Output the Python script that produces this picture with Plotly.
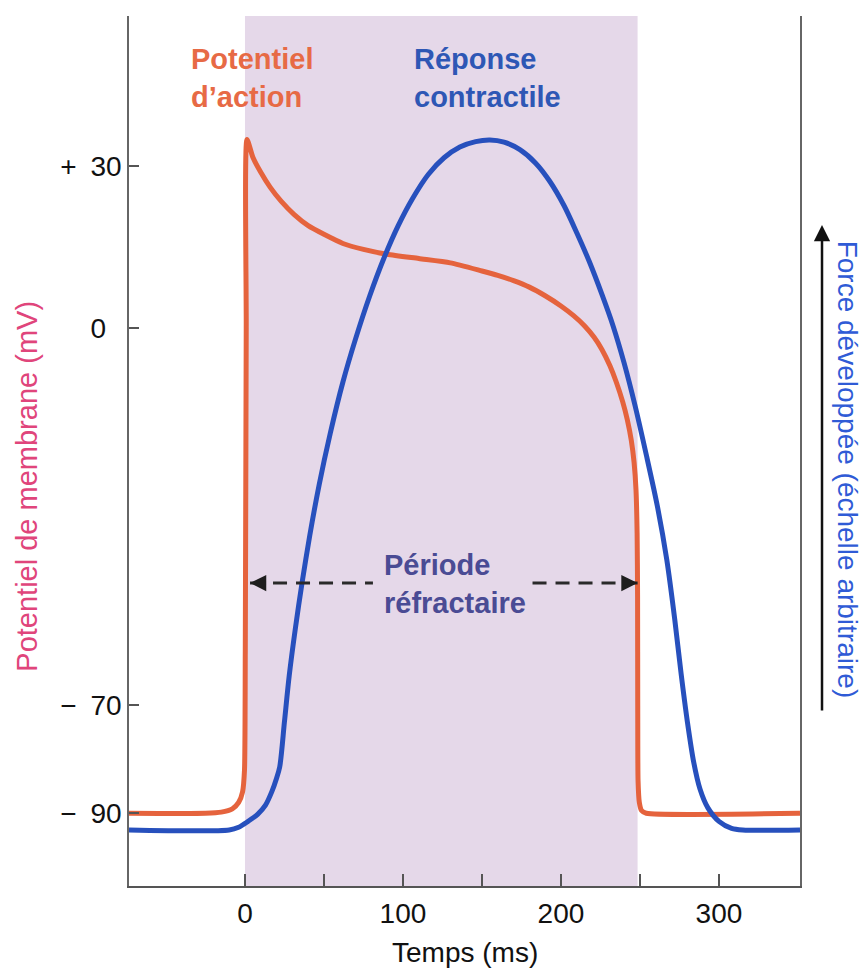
import plotly.graph_objects as go

# ---- data ----
ap_time = [-73.4, -25, -15, -8, -4, -1.5, -0.3, 0.2, 0.8, 1.3, 5, 10, 16, 23, 31, 40, 50, 62, 75, 90,
           110, 130, 150, 160, 170, 180, 190, 200, 208, 215, 221, 226, 231, 235, 239, 242, 244.5, 246.3,
           247.5, 248.2, 248.5, 248.6, 248.8, 249.6, 251, 254, 351.3]
ap_mv = [-90, -90, -89.8, -89.2, -88, -86, -82, -60, 0, 35, 31.7, 28.9, 26.1, 23.5, 21.1, 19.0, 17.4,
         15.7, 14.6, 13.7, 12.9, 12.1, 10.6, 9.8, 8.8, 7.6, 6.0, 4.1, 2.3, 0.4, -1.7, -4.0, -7.0, -10.0,
         -13.6, -17.0, -20.8, -25, -30, -38, -50, -70, -84, -88, -89.5, -90, -90]

force_time = [-73.4, -10, -4, 2, 8, 13, 17, 20, 22, 25, 28, 32, 36, 41, 47, 54, 62, 70, 79, 88, 97, 106,
              116, 126, 136, 146, 155, 164, 174, 184, 193, 202, 210, 218, 226, 233, 240, 247, 254, 261,
              267, 272, 276, 280, 284, 288, 293, 300, 308, 315, 351.3]
force_val = [-93.1, -93.1, -92.6, -91.5, -90.2, -88.5, -86, -83.5, -81.4, -73, -64.5, -55.5, -47.5,
             -38.5, -29, -19.5, -10, -2, 6, 13, 19, 24, 28.5, 31.6, 33.6, 34.6, 34.9, 34.5, 33.1, 30.6,
             27.2, 22.7, 17.7, 12.3, 6.2, 0.4, -6.5, -14.5, -23.5, -33, -43, -54, -64, -73, -80.5,
             -85.5, -89, -91.5, -92.8, -93.1, -93.1]

refractory_start = 0
refractory_end = 248.5
refractory_level = -47.3
refractory_label_gap = (81, 182)

x_tick_vals = [0, 50, 100, 150, 200, 250, 300]
x_tick_text = ['0', '', '100', '', '200', '', '300']
y_tick_vals = [30, 0, -70, -90]
y_tick_text = ['+\u200230', '0\u2007', '\u2212\u200270', '\u2212\u200290']

ORANGE = '#e5633d'
BLUE = '#2750bd'
FONT = 'Liberation Sans, Arial, Helvetica, sans-serif'

fig = go.Figure()

# refractory period shading
fig.add_shape(type='rect', xref='x', yref='paper', x0=refractory_start, x1=refractory_end,
              y0=0, y1=1, fillcolor='#e5d8e9', line_width=0, layer='below')

fig.add_trace(go.Scatter(x=ap_time, y=ap_mv, mode='lines',
                         line=dict(color=ORANGE, width=5, shape='spline', smoothing=0.6),
                         showlegend=False, hoverinfo='skip'))
fig.add_trace(go.Scatter(x=force_time, y=force_val, mode='lines',
                         line=dict(color=BLUE, width=5, shape='spline', smoothing=0.8),
                         showlegend=False, hoverinfo='skip'))

# dashed refractory arrow segments
for xa, xb in [(refractory_start + 3.2, refractory_label_gap[0]), (refractory_label_gap[1], refractory_end)]:
    fig.add_trace(go.Scatter(x=[xa, xb], y=[refractory_level, refractory_level], mode='lines',
                             line=dict(color='#2a2a2a', width=3, dash='14px,9px'),
                             showlegend=False, hoverinfo='skip'))

annotations = []
# arrowheads
annotations.append(dict(x=refractory_start + 3.2, y=refractory_level, xref='x', yref='y', text='',
                        showarrow=True, ax=14, ay=0, arrowhead=2, arrowsize=1.3, arrowwidth=2.5,
                        arrowcolor='#1e1e1e'))
annotations.append(dict(x=refractory_end, y=refractory_level, xref='x', yref='y', text='',
                        showarrow=True, ax=-14, ay=0, arrowhead=2, arrowsize=1.3, arrowwidth=2.5,
                        arrowcolor='#1e1e1e'))

# labels
annotations.append(dict(x=-35.5, y=53.2, xref='x', yref='y', xanchor='left', yanchor='top', align='left',
                        text='<b>Potentiel<br>d\u2019action</b>', showarrow=False,
                        font=dict(family=FONT, size=29, color='#e76a45')))
annotations.append(dict(x=106, y=53.2, xref='x', yref='y', xanchor='left', yanchor='top', align='left',
                        text='<b>Réponse<br>contractile</b>', showarrow=False,
                        font=dict(family=FONT, size=29, color='#2e57b5')))
annotations.append(dict(x=87, y=-40.7, xref='x', yref='y', xanchor='left', yanchor='top', align='left',
                        text='<b>Période<br>réfractaire</b>', showarrow=False,
                        font=dict(family=FONT, size=29, color='#4a4b94')))

# axis titles
annotations.append(dict(x=-0.152, y=0.459, xref='paper', yref='paper', text='Potentiel de membrane (mV)',
                        textangle=-90, showarrow=False, xanchor='center', yanchor='middle',
                        font=dict(family=FONT, size=29, color='#e0457b')))
annotations.append(dict(x=1.071, y=0.479, xref='paper', yref='paper', text='Force développée (échelle arbitraire)',
                        textangle=90, showarrow=False, xanchor='center', yanchor='middle',
                        font=dict(family=FONT, size=28, color='#2f5bd6')))
annotations.append(dict(x=0.5, y=-0.0565, xref='paper', yref='paper', text='Temps (ms)', showarrow=False,
                        xanchor='center', yanchor='top', font=dict(family=FONT, size=28, color='#111')))
# force arrow on the right
annotations.append(dict(x=1.0328, y=0.7598, xref='paper', yref='paper', text='', showarrow=True,
                        ax=0, ay=487, arrowhead=2, arrowsize=1.3, arrowwidth=2.5, arrowcolor='#111'))

fig.update_layout(
    width=865, height=968,
    margin=dict(l=129, r=65, t=16, b=82, autoexpand=False),
    plot_bgcolor='white', paper_bgcolor='white',
    annotations=annotations,
    showlegend=False,
    xaxis=dict(range=[-73.4, 351.3], tickvals=x_tick_vals, ticktext=x_tick_text, automargin=False,
               ticks='inside', ticklen=12, tickwidth=1.5, tickcolor='#555',
               showline=True, linecolor='#555', linewidth=1.5, mirror=False,
               showgrid=False, zeroline=False, ticklabelstandoff=2,
               tickfont=dict(family=FONT, size=28, color='#111')),
    yaxis=dict(range=[-103.5, 57.9], tickvals=y_tick_vals, ticktext=y_tick_text, automargin=False,
               ticks='inside', ticklen=10, tickwidth=1.5, tickcolor='#555',
               showline=True, linecolor='#666', linewidth=1.5, mirror=True,
               showgrid=False, zeroline=False, ticklabelstandoff=0,
               tickfont=dict(family=FONT, size=28, color='#111')),
)

# remove the browser's default page margin so the 865x968 figure fills the window exactly
fig.write_html('out.html', config={'displayModeBar': False},
               post_script="document.body.style.margin='0';document.body.style.overflow='hidden';")
